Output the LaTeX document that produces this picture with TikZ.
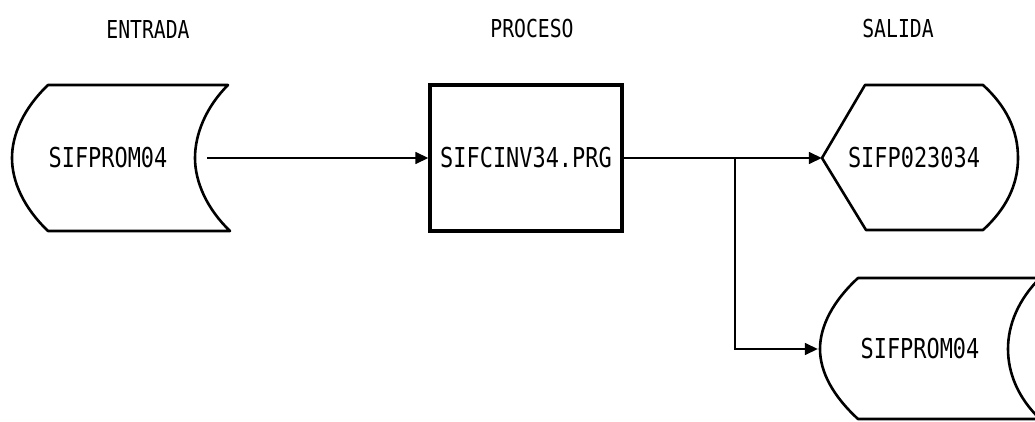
\documentclass[tikz,border=0pt]{standalone}
\usepackage{fontspec}
\usetikzlibrary{arrows.meta,positioning}
\newfontfamily\dotfont[FakeStretch=0.8]{DejaVu Sans Mono}
\newcommand{\headSize}{\fontsize{24.7}{28}\selectfont}
\newcommand{\bodySize}{\fontsize{27.4}{30}\selectfont}

\begin{document}
\begin{tikzpicture}[x=1pt,y=-1pt,
    head/.style={font=\dotfont\headSize,inner sep=0pt},
    label/.style={font=\dotfont\bodySize,inner sep=0pt,minimum height=146pt},
    procbox/.style={draw,line width=3.4pt,font=\dotfont\bodySize,minimum width=192pt,minimum height=146pt,inner sep=0pt},
    outline/.style={line width=2.6pt,line join=round},
    conn/.style={line width=1.5pt,-{Triangle[length=13pt,width=12pt]}}]
    \useasboundingbox (0,0) rectangle (1035,422);
    \node[head] (hIn) at (148,29) {ENTRADA};
    \node[head] (hProc) at (532,29) {PROCESO};
    \node[head] (hOut) at (898,29) {SALIDA};
    \node[label,minimum width=198pt] (in) at (108,158) {SIFPROM04};
    \node[procbox] (proc) at (526,158) {SIFCINV34.PRG};
    \node[label,minimum width=184pt] (out) at (914,158) {SIFP023034};
    \node[label,minimum width=204pt,minimum height=142pt] (sto) at (920,349) {SIFPROM04};
    \draw[outline] (48,85) -- (228,85) .. controls (206,107) and (195,134) .. (195,158) .. controls (195,182) and (207,209) .. (230,231) -- (48,231) .. controls (24,208) and (12,182) .. (12,158) .. controls (12,134) and (24,108) .. (48,85) -- cycle;
    \draw[outline] (865,85) -- (983,85) .. controls (1006,106) and (1018,130) .. (1018,158) .. controls (1018,185) and (1006,209) .. (983,230) -- (866,230) -- (822,158) -- cycle;
    \draw[outline] (858,278) -- (1040,278) .. controls (1018,300) and (1008,325) .. (1008,349) .. controls (1008,373) and (1018,398) .. (1040,419) -- (858,419) .. controls (833,396) and (820,372) .. (820,349) .. controls (820,326) and (833,301) .. (858,278) -- cycle;
    \coordinate (split) at (735,158);
    \draw[conn] (in) -- (proc);
    \draw[conn] (proc) -- (out);
    \draw[conn] (split) |- (sto);
\end{tikzpicture}
\end{document}
